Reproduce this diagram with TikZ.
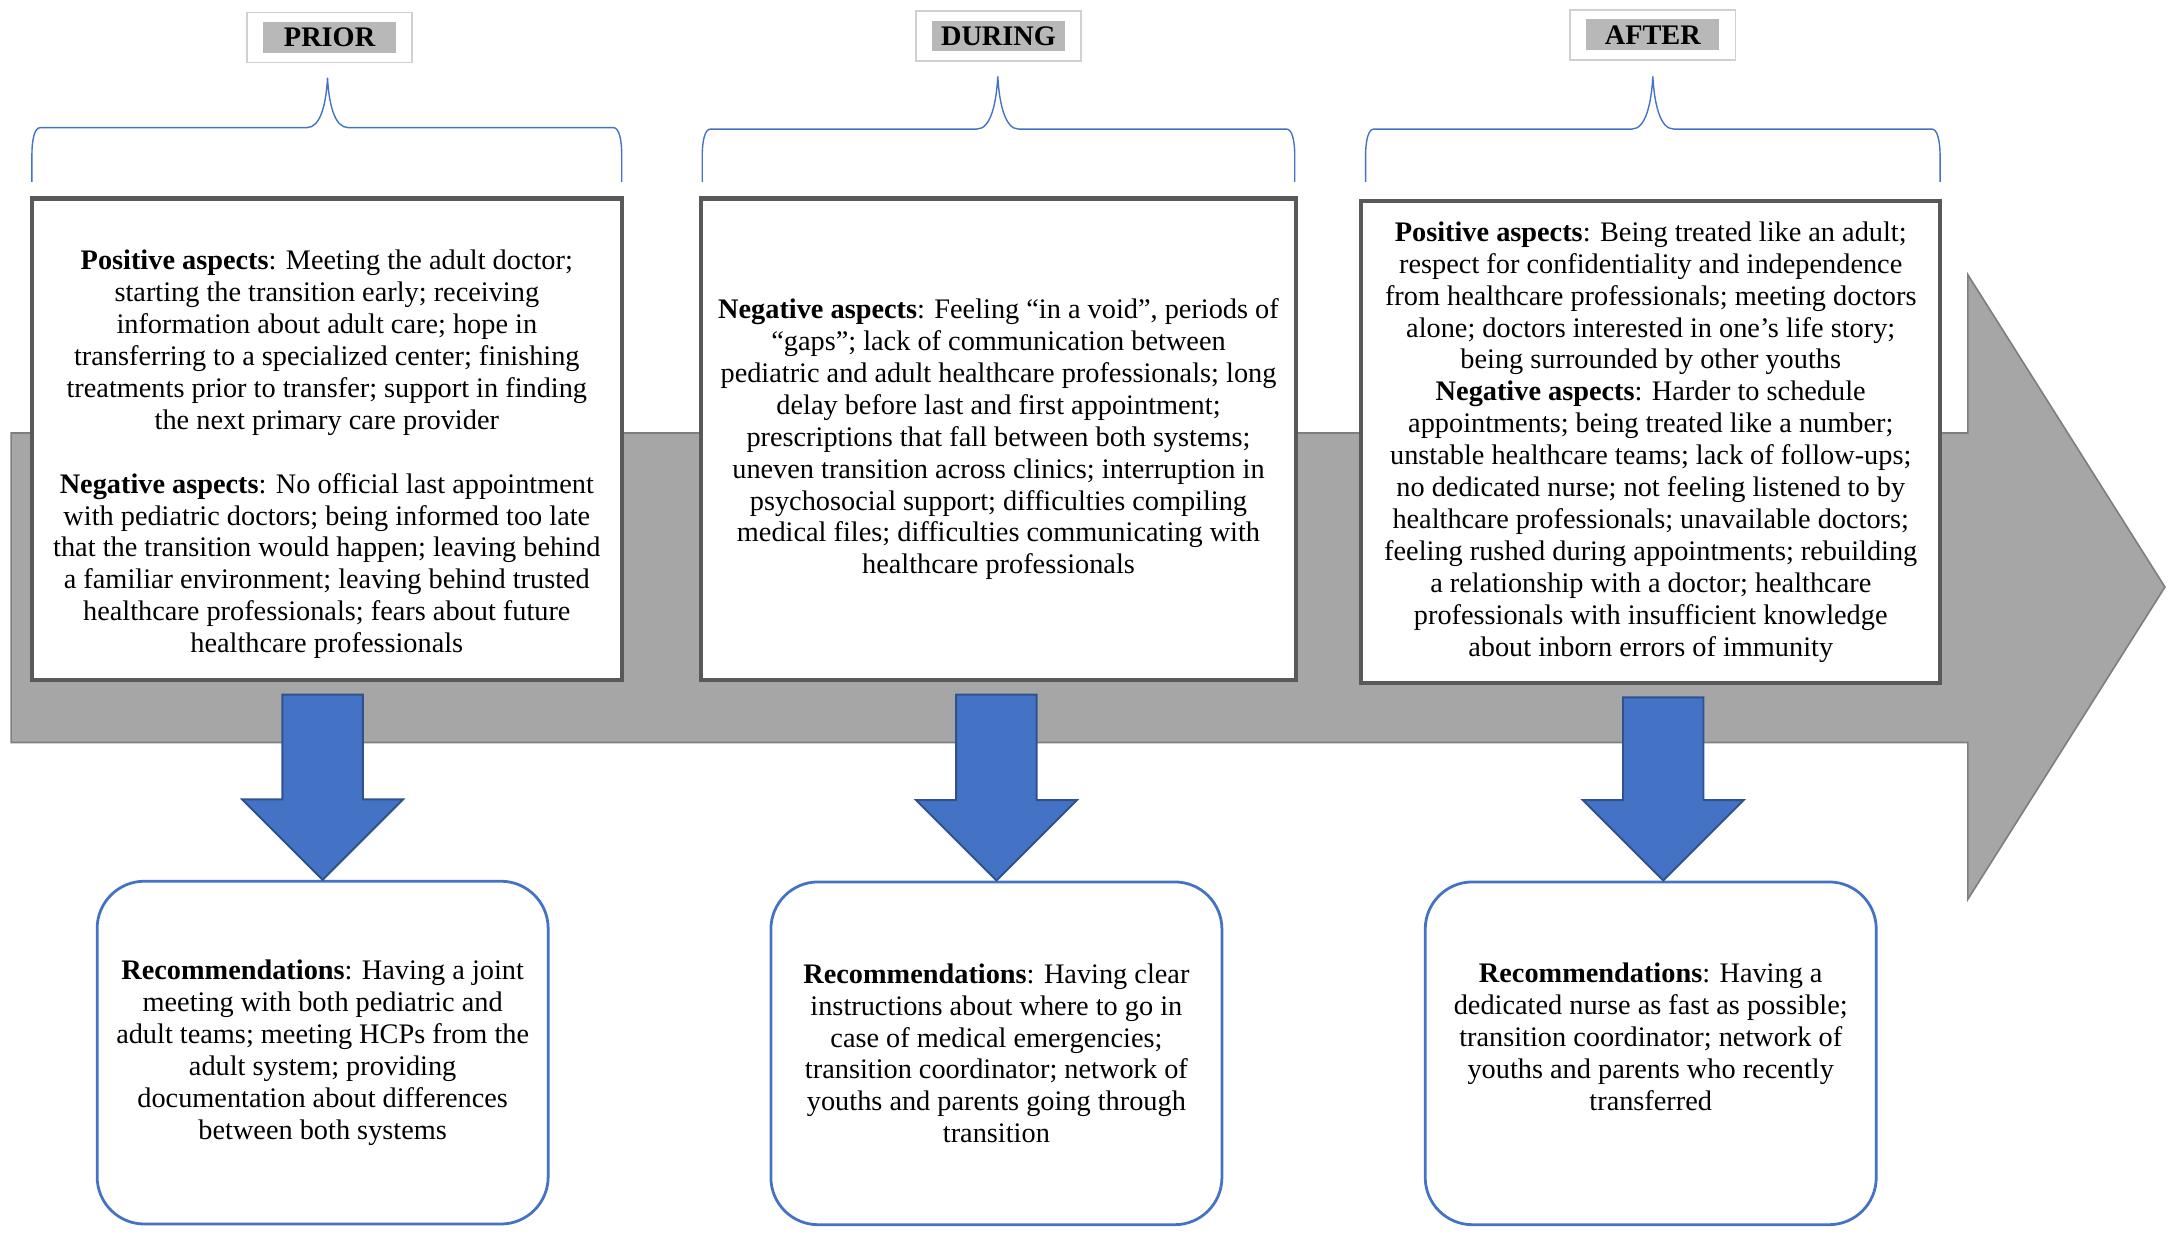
\documentclass[tikz,border=0pt]{standalone}
\usepackage{fontspec}
\setmainfont{Liberation Serif}
\usetikzlibrary{calc}

\definecolor{timegray}{HTML}{A6A6A6}
\definecolor{timeedge}{HTML}{7F7F7F}
\definecolor{boxedge}{HTML}{595959}
\definecolor{recblue}{HTML}{4472C4}
\definecolor{recedge}{HTML}{2F528F}
\definecolor{tabgray}{HTML}{B8B8B8}
\definecolor{tabedge}{HTML}{D0D0D0}

\begin{document}
\begin{tikzpicture}[
    x=0.5pt, y=-0.5pt,
    font=\fontsize{10.2}{11.5}\selectfont,
    timeline/.style={fill=timegray, draw=timeedge, line width=0.6pt},
    phaseframe/.style={draw=tabedge, fill=white, line width=0.6pt, minimum width=59.5pt, minimum height=18pt, inner sep=0pt},
    phasetab/.style={fill=tabgray, font=\fontsize{10.2}{11.5}\selectfont\bfseries, minimum width=48pt, minimum height=11pt, inner sep=0pt},
    bracket/.style={draw=recblue, line width=0.5pt},
    aspects/.style={draw=boxedge, fill=white, line width=1.5pt, align=center, inner sep=2pt, minimum height=173.5pt},
    recbox/.style={draw=recblue, fill=white, line width=1pt, rounded corners=17pt, align=center, minimum width=162.5pt, minimum height=123.5pt},
    downarrow/.style={fill=recblue, draw=recedge, line width=0.7pt, line join=miter}
]
\useasboundingbox (0,0) rectangle (1568,894);

% Big grey timeline arrow
\draw[timeline] (8,312) -- (1418,312) -- (1418,198) -- (1560,423) -- (1418,648) -- (1418,535) -- (8,535) -- cycle;

% Phase labels
\node[phaseframe] (tabprior) at (237.5,27) {};
\node[phasetab] (labprior) at (tabprior) {PRIOR};
\node[phaseframe] (tabduring) at (719.5,26) {};
\node[phasetab] (labduring) at (tabduring) {DURING};
\node[phaseframe] (tabafter) at (1191,25) {};
\node[phasetab] (labafter) at (tabafter) {AFTER};

% Braces under the labels
\draw[bracket] (23,131) -- (23,112) .. controls (23,100) and (25,92) .. (29,92) -- (221,92) .. controls (231,92) and (235,75) .. (236,56) .. controls (237,75) and (241,92) .. (251,92) -- (442,92) .. controls (446,92) and (448,100) .. (448,112) -- (448,131);
\draw[bracket] (506,131) -- (506,113) .. controls (506,101) and (508,93) .. (512,93) -- (704,93) .. controls (714,93) and (718,74) .. (719,55) .. controls (720,74) and (724,93) .. (734,93) -- (927,93) .. controls (931,93) and (933,101) .. (933,113) -- (933,131);
\draw[bracket] (984,131) -- (984,113) .. controls (984,101) and (986,93) .. (990,93) -- (1176,93) .. controls (1186,93) and (1190,74) .. (1191,55) .. controls (1192,74) and (1196,93) .. (1206,93) -- (1392,93) .. controls (1396,93) and (1398,101) .. (1398,113) -- (1398,131);

% Aspects per phase
\node[aspects, minimum width=212.5pt] (prior) at (235.5,316.5) {%
\rule{0pt}{18pt}\textbf{Positive aspects}: Meeting the adult doctor;\\
starting the transition early; receiving\\
information about adult care; hope in\\
transferring to a specialized center; finishing\\
treatments prior to transfer; support in finding\\
the next primary care provider\\[11.5pt]
\textbf{Negative aspects}: No official last appointment\\
with pediatric doctors; being informed too late\\
that the transition would happen; leaving behind\\
a familiar environment; leaving behind trusted\\
healthcare professionals; fears about future\\
healthcare professionals};

\node[aspects, minimum width=214.5pt] (during) at (719.5,316.5) {%
\textbf{Negative aspects}: Feeling “in a void”, periods of\\
“gaps”; lack of communication between\\
pediatric and adult healthcare professionals; long\\
delay before last and first appointment;\\
prescriptions that fall between both systems;\\
uneven transition across clinics; interruption in\\
psychosocial support; difficulties compiling\\
medical files; difficulties communicating with\\
healthcare professionals};

\node[aspects, minimum width=208.5pt] (after) at (1189.5,318.5) {%
\textbf{Positive aspects}: Being treated like an adult;\\
respect for confidentiality and independence\\
from healthcare professionals; meeting doctors\\
alone; doctors interested in one’s life story;\\
being surrounded by other youths\\
\textbf{Negative aspects}: Harder to schedule\\
appointments; being treated like a number;\\
unstable healthcare teams; lack of follow-ups;\\
no dedicated nurse; not feeling listened to by\\
healthcare professionals; unavailable doctors;\\
feeling rushed during appointments; rebuilding\\
a relationship with a doctor; healthcare\\
professionals with insufficient knowledge\\
about inborn errors of immunity};

% Recommendations
\node[recbox] (recprior) at (232.5,758.5) {%
\textbf{Recommendations}: Having a joint\\
meeting with both pediatric and\\
adult teams; meeting HCPs from the\\
adult system; providing\\
documentation about differences\\
between both systems};

\node[recbox] (recduring) at (718,759) {%
\textbf{Recommendations}: Having clear\\
instructions about where to go in\\
case of medical emergencies;\\
transition coordinator; network of\\
youths and parents going through\\
transition};

\node[recbox] (recafter) at (1189.5,759) {%
\textbf{Recommendations}: Having a\\
dedicated nurse as fast as possible;\\
transition coordinator; network of\\
youths and parents who recently\\
transferred\rule[-12pt]{0pt}{1pt}};

% Blue block arrows down to the recommendations
\draw[downarrow] (recprior.north) -- ++(-58,-58) -- ++(29,0) |- ($(prior.south)+(0,9)$) -| ($(recprior.north)+(29,-58)$) -- ++(29,0) -- cycle;
\draw[downarrow] (recduring.north) -- ++(-58,-58) -- ++(29,0) |- ($(during.south)+(0,9)$) -| ($(recduring.north)+(29,-58)$) -- ++(29,0) -- cycle;
\draw[downarrow] ($(recafter.north)+(9,0)$) -- ++(-58,-58) -- ++(29,0) |- ($(after.south)+(9,9)$) -| ($(recafter.north)+(38,-58)$) -- ++(29,0) -- cycle;

\end{tikzpicture}
\end{document}
